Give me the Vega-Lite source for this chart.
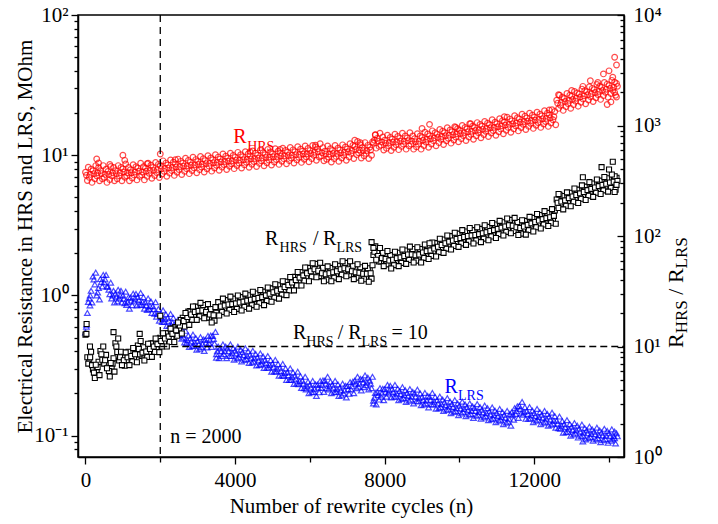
{
"$schema": "https://vega.github.io/schema/vega-lite/v6.json",
"width": 546, "height": 442,
"autosize": {"type": "none"},
"padding": {"left": 78, "top": 15, "right": 94, "bottom": 67},
"background": "white",
"config": {
 "font": "Liberation Serif",
 "view": {"stroke": "black", "strokeWidth": 1.5},
 "axis": {"labelFont": "Liberation Serif", "titleFont": "Liberation Serif", "labelFontSize": 21, "titleFontSize": 21, "labelColor": "black", "titleColor": "black", "titleFontWeight": "normal", "domainColor": "black", "domainWidth": 1.5, "tickColor": "black", "tickWidth": 1.3, "grid": false, "labelOverlap": false, "labelFlush": false}
},
"datasets": {
"main": [
{"n":0,"h":7.56,"l":0.546,"r":12.8},{"n":100,"h":6.95,"l":0.952,"r":7.48},{"n":200,"h":7.77,"l":1.365,"r":6.2},{"n":300,"h":7.14,"l":1.0,"r":6.07},{"n":400,"h":7.77,"l":1.31,"r":9.1},{"n":500,"h":6.95,"l":1.24,"r":7.0},{"n":600,"h":7.67,"l":1.155,"r":6.42},{"n":700,"h":7.14,"l":0.952,"r":6.54},{"n":800,"h":7.77,"l":1.03,"r":10.7},{"n":900,"h":7.14,"l":0.952,"r":7.48},
{"n":1000,"h":7.98,"l":1.0,"r":8.0},{"n":1100,"h":7.14,"l":0.857,"r":7.48},{"n":1200,"h":7.88,"l":0.966,"r":8.77},{"n":1300,"h":7.24,"l":0.905,"r":7.94},{"n":1400,"h":8.09,"l":0.977,"r":10.2},{"n":1500,"h":7.24,"l":0.857,"r":8.22},{"n":1600,"h":8.09,"l":0.893,"r":9.63},{"n":1700,"h":7.43,"l":0.8,"r":8.88},{"n":1800,"h":8.19,"l":0.84,"r":10.7},{"n":1900,"h":7.52,"l":0.705,"r":9.81},
{"n":2000,"h":8.4,"l":0.735,"r":12.0},{"n":2100,"h":7.68,"l":0.648,"r":11.0},{"n":2200,"h":8.53,"l":0.693,"r":13.2},{"n":2300,"h":7.79,"l":0.61,"r":12.1},{"n":2400,"h":8.65,"l":0.63,"r":15.0},{"n":2500,"h":7.9,"l":0.524,"r":14.5},{"n":2600,"h":8.78,"l":0.525,"r":18.2},{"n":2700,"h":8.02,"l":0.457,"r":17.3},{"n":2800,"h":8.9,"l":0.494,"r":20.9},{"n":2900,"h":8.13,"l":0.438,"r":19.2},
{"n":3000,"h":9.03,"l":0.473,"r":22.5},{"n":3100,"h":8.25,"l":0.429,"r":19.8},{"n":3200,"h":9.16,"l":0.483,"r":21.9},{"n":3300,"h":8.36,"l":0.457,"r":18.2},{"n":3400,"h":9.28,"l":0.515,"r":20.5},{"n":3500,"h":8.48,"l":0.381,"r":21.0},{"n":3600,"h":9.41,"l":0.42,"r":24.6},{"n":3700,"h":8.59,"l":0.381,"r":22.0},{"n":3800,"h":9.53,"l":0.42,"r":25.7},{"n":3900,"h":8.7,"l":0.371,"r":22.6},
{"n":4000,"h":9.66,"l":0.404,"r":26.2},{"n":4100,"h":8.81,"l":0.362,"r":23.4},{"n":4200,"h":9.77,"l":0.394,"r":27.3},{"n":4300,"h":8.91,"l":0.352,"r":24.3},{"n":4400,"h":9.88,"l":0.378,"r":28.4},{"n":4500,"h":9.02,"l":0.338,"r":25.2},{"n":4600,"h":10.0,"l":0.362,"r":29.4},{"n":4700,"h":9.12,"l":0.324,"r":26.2},{"n":4800,"h":10.1,"l":0.347,"r":31.0},{"n":4900,"h":9.24,"l":0.305,"r":28.0},
{"n":5000,"h":10.2,"l":0.326,"r":33.2},{"n":5100,"h":9.33,"l":0.286,"r":29.9},{"n":5200,"h":10.35,"l":0.305,"r":35.3},{"n":5300,"h":9.45,"l":0.267,"r":32.2},{"n":5400,"h":10.5,"l":0.284,"r":38.5},{"n":5500,"h":9.55,"l":0.25,"r":35.5},{"n":5600,"h":10.6,"l":0.268,"r":42.8},{"n":5700,"h":9.66,"l":0.233,"r":39.3},{"n":5800,"h":10.7,"l":0.247,"r":47.1},{"n":5900,"h":9.76,"l":0.214,"r":43.0},
{"n":6000,"h":10.8,"l":0.231,"r":51.4},{"n":6100,"h":10.0,"l":0.205,"r":46.7},{"n":6200,"h":11.1,"l":0.231,"r":51.9},{"n":6300,"h":9.9,"l":0.219,"r":43.0},{"n":6400,"h":10.7,"l":0.247,"r":48.2},{"n":6500,"h":9.71,"l":0.214,"r":43.0},{"n":6600,"h":10.8,"l":0.231,"r":50.3},{"n":6700,"h":9.81,"l":0.205,"r":44.9},{"n":6800,"h":10.9,"l":0.22,"r":53.5},{"n":6900,"h":10.0,"l":0.2,"r":47.7},
{"n":7000,"h":11.1,"l":0.226,"r":53.5},{"n":7100,"h":10.3,"l":0.214,"r":44.9},{"n":7200,"h":11.55,"l":0.247,"r":50.3},{"n":7300,"h":10.4,"l":0.224,"r":43.5},{"n":7400,"h":11.3,"l":0.252,"r":48.7},{"n":7500,"h":10.3,"l":0.229,"r":42.5},{"n":7600,"h":11.4,"l":0.247,"r":49.2},{"n":7700,"h":12.2,"l":0.178,"r":67.3},{"n":7800,"h":13.2,"l":0.205,"r":70.6},{"n":7900,"h":11.8,"l":0.19,"r":58.9},
{"n":8000,"h":12.8,"l":0.215,"r":66.3},{"n":8100,"h":11.7,"l":0.2,"r":56.1},{"n":8200,"h":13.0,"l":0.215,"r":65.3},{"n":8300,"h":11.9,"l":0.19,"r":58.9},{"n":8400,"h":13.2,"l":0.208,"r":68.5},{"n":8500,"h":12.0,"l":0.186,"r":61.7},{"n":8600,"h":13.3,"l":0.202,"r":72.8},{"n":8700,"h":12.0,"l":0.181,"r":63.6},{"n":8800,"h":13.1,"l":0.2,"r":71.7},{"n":8900,"h":12.0,"l":0.176,"r":63.6},
{"n":9000,"h":13.4,"l":0.189,"r":76.0},{"n":9100,"h":12.4,"l":0.17,"r":68.2},{"n":9200,"h":13.75,"l":0.189,"r":79.2},{"n":9300,"h":12.7,"l":0.167,"r":72.0},{"n":9400,"h":14.1,"l":0.179,"r":85.6},{"n":9500,"h":13.0,"l":0.16,"r":77.6},{"n":9600,"h":14.5,"l":0.173,"r":92.0},{"n":9700,"h":13.2,"l":0.154,"r":83.2},{"n":9800,"h":14.7,"l":0.168,"r":97.4},{"n":9900,"h":13.5,"l":0.15,"r":87.9},
{"n":10000,"h":15.0,"l":0.164,"r":103},{"n":10100,"h":13.8,"l":0.148,"r":91.6},{"n":10200,"h":15.4,"l":0.16,"r":107},{"n":10300,"h":14.1,"l":0.143,"r":94.4},{"n":10400,"h":15.75,"l":0.158,"r":109},{"n":10500,"h":14.5,"l":0.141,"r":97.2},{"n":10600,"h":16.1,"l":0.153,"r":113},{"n":10700,"h":14.8,"l":0.138,"r":101},{"n":10800,"h":16.5,"l":0.149,"r":119},{"n":10900,"h":15.0,"l":0.133,"r":106},
{"n":11000,"h":16.8,"l":0.145,"r":124},{"n":11100,"h":15.4,"l":0.13,"r":111},{"n":11200,"h":17.2,"l":0.141,"r":131},{"n":11300,"h":15.8,"l":0.126,"r":117},{"n":11400,"h":17.6,"l":0.147,"r":133},{"n":11500,"h":16.2,"l":0.143,"r":112},{"n":11600,"h":18.1,"l":0.163,"r":126},{"n":11700,"h":16.6,"l":0.141,"r":114},{"n":11800,"h":18.4,"l":0.15,"r":135},{"n":11900,"h":16.9,"l":0.133,"r":121},
{"n":12000,"h":18.7,"l":0.145,"r":143},{"n":12100,"h":17.1,"l":0.13,"r":129},{"n":12200,"h":19.1,"l":0.141,"r":152},{"n":12300,"h":17.4,"l":0.126,"r":136},{"n":12400,"h":19.4,"l":0.137,"r":158},{"n":12500,"h":17.9,"l":0.122,"r":142},{"n":12600,"h":24.7,"l":0.128,"r":214},{"n":12700,"h":22.7,"l":0.112,"r":192},{"n":12800,"h":25.4,"l":0.121,"r":225},{"n":12900,"h":23.4,"l":0.107,"r":206},
{"n":13000,"h":26.3,"l":0.116,"r":244},{"n":13100,"h":24.3,"l":0.104,"r":220},{"n":13200,"h":27.3,"l":0.112,"r":260},{"n":13300,"h":25.2,"l":0.1,"r":234},{"n":13400,"h":28.4,"l":0.109,"r":278},{"n":13500,"h":26.2,"l":0.098,"r":250},{"n":13600,"h":29.4,"l":0.107,"r":294},{"n":13700,"h":27.1,"l":0.096,"r":264},{"n":13800,"h":30.5,"l":0.105,"r":310},{"n":13900,"h":28.1,"l":0.095,"r":278},
{"n":14000,"h":31.5,"l":0.104,"r":326},{"n":14100,"h":29.0,"l":0.094,"r":290},{"n":14200,"h":32.5,"l":0.104,"r":337},
{"n":50,"h":6.6,"l":0.75,"r":8},{"n":150,"h":7.96,"l":1.08,"r":8.96},{"n":250,"h":6.79,"l":1.2,"r":5.18},{"n":350,"h":8.18,"l":1.13,"r":7.28},{"n":450,"h":6.79,"l":1.16,"r":7.59},{"n":550,"h":7.96,"l":1.4,"r":8.4},{"n":650,"h":6.7,"l":1.02,"r":5.36},{"n":750,"h":8.18,"l":1.08,"r":7.84},{"n":850,"h":6.79,"l":0.907,"r":8.93},{"n":950,"h":8.18,"l":1.08,"r":8.96},
{"n":1050,"h":6.97,"l":0.88,"r":6.7},{"n":1150,"h":8.18,"l":0.972,"r":8.96},{"n":1250,"h":6.88,"l":0.852,"r":7.32},{"n":1350,"h":8.28,"l":1.026,"r":9.52},{"n":1450,"h":7.06,"l":0.861,"r":8.48},{"n":1550,"h":8.28,"l":0.972,"r":9.86},{"n":1650,"h":7.06,"l":0.787,"r":8.04},{"n":1750,"h":8.5,"l":0.907,"r":10.64},{"n":1850,"h":7.16,"l":0.741,"r":8.93},{"n":1950,"h":8.61,"l":0.8,"r":11.76},
{"n":2050,"h":7.34,"l":0.648,"r":10.0},{"n":2150,"h":8.79,"l":0.734,"r":13.2},{"n":2250,"h":7.45,"l":0.611,"r":11.0},{"n":2350,"h":8.92,"l":0.691,"r":14.56},{"n":2450,"h":7.56,"l":0.556,"r":12.5},{"n":2550,"h":9.05,"l":0.594,"r":17.36},{"n":2650,"h":7.67,"l":0.463,"r":15.18},{"n":2750,"h":9.18,"l":0.518,"r":20.7},{"n":2850,"h":7.78,"l":0.435,"r":17.4},{"n":2950,"h":9.31,"l":0.497,"r":22.96},
{"n":3050,"h":7.89,"l":0.417,"r":18.75},{"n":3150,"h":9.44,"l":0.486,"r":23.74},{"n":3250,"h":8.0,"l":0.426,"r":18.3},{"n":3350,"h":9.57,"l":0.518,"r":21.84},{"n":3450,"h":8.11,"l":0.454,"r":17.14},{"n":3550,"h":9.7,"l":0.432,"r":25.2},{"n":3650,"h":8.22,"l":0.37,"r":20.5},{"n":3750,"h":9.83,"l":0.432,"r":26.3},{"n":3850,"h":8.33,"l":0.37,"r":21.4},{"n":3950,"h":9.96,"l":0.421,"r":27.1},
{"n":4050,"h":8.44,"l":0.356,"r":21.9},{"n":4150,"h":10.08,"l":0.41,"r":28.0},{"n":4250,"h":8.53,"l":0.347,"r":22.8},{"n":4350,"h":10.2,"l":0.4,"r":29.1},{"n":4450,"h":8.63,"l":0.333,"r":23.7},{"n":4550,"h":10.32,"l":0.383,"r":30.2},{"n":4650,"h":8.74,"l":0.319,"r":24.6},{"n":4750,"h":10.44,"l":0.367,"r":31.4},{"n":4850,"h":8.84,"l":0.306,"r":25.9},{"n":4950,"h":10.57,"l":0.346,"r":33.6},
{"n":5050,"h":8.94,"l":0.287,"r":27.7},{"n":5150,"h":10.68,"l":0.324,"r":35.8},{"n":5250,"h":9.05,"l":0.269,"r":29.5},{"n":5350,"h":10.81,"l":0.302,"r":38.6},{"n":5450,"h":9.15,"l":0.25,"r":32.1},{"n":5550,"h":10.93,"l":0.283,"r":42.6},{"n":5650,"h":9.26,"l":0.236,"r":35.7},{"n":5750,"h":11.05,"l":0.265,"r":47.0},{"n":5850,"h":9.36,"l":0.218,"r":39.3},{"n":5950,"h":11.17,"l":0.243,"r":51.5},
{"n":6050,"h":9.45,"l":0.204,"r":42.9},{"n":6150,"h":11.45,"l":0.232,"r":56.0},{"n":6250,"h":9.72,"l":0.204,"r":43.3},{"n":6350,"h":11.34,"l":0.248,"r":51.5},{"n":6450,"h":9.36,"l":0.218,"r":40.2},{"n":6550,"h":11.12,"l":0.243,"r":51.5},{"n":6650,"h":9.45,"l":0.204,"r":42.0},{"n":6750,"h":11.23,"l":0.232,"r":53.8},{"n":6850,"h":9.54,"l":0.194,"r":44.6},{"n":6950,"h":11.45,"l":0.227,"r":57.1},
{"n":7050,"h":9.72,"l":0.199,"r":44.6},{"n":7150,"h":11.77,"l":0.243,"r":53.8},{"n":7250,"h":10.09,"l":0.218,"r":42.0},{"n":7350,"h":11.88,"l":0.254,"r":52.1},{"n":7450,"h":9.91,"l":0.222,"r":40.6},{"n":7550,"h":11.77,"l":0.259,"r":51.0},{"n":7650,"h":10.0,"l":0.218,"r":41.1},{"n":7750,"h":13.95,"l":0.202,"r":80.6},{"n":7850,"h":11.56,"l":0.181,"r":58.9},{"n":7950,"h":13.52,"l":0.216,"r":70.6},
{"n":8050,"h":11.19,"l":0.19,"r":55.4},{"n":8150,"h":13.41,"l":0.227,"r":67.2},{"n":8250,"h":11.38,"l":0.19,"r":54.5},{"n":8350,"h":13.63,"l":0.216,"r":70.6},{"n":8450,"h":11.56,"l":0.183,"r":57.1},{"n":8550,"h":13.73,"l":0.211,"r":73.9},{"n":8650,"h":11.65,"l":0.178,"r":60.7},{"n":8750,"h":13.73,"l":0.205,"r":76.2},{"n":8850,"h":11.47,"l":0.176,"r":59.8},{"n":8950,"h":13.73,"l":0.2,"r":76.2},
{"n":9050,"h":11.74,"l":0.167,"r":63.4},{"n":9150,"h":14.17,"l":0.192,"r":81.8},{"n":9250,"h":12.02,"l":0.167,"r":66.1},{"n":9350,"h":14.5,"l":0.189,"r":86.2},{"n":9450,"h":12.29,"l":0.157,"r":71.4},{"n":9550,"h":14.82,"l":0.181,"r":93.0},{"n":9650,"h":12.66,"l":0.153,"r":76.8},{"n":9750,"h":15.15,"l":0.175,"r":99.7},{"n":9850,"h":12.84,"l":0.148,"r":81.3},{"n":9950,"h":15.48,"l":0.17,"r":105},
{"n":10050,"h":13.12,"l":0.144,"r":85.7},{"n":10150,"h":15.8,"l":0.167,"r":110},{"n":10250,"h":13.49,"l":0.141,"r":89.3},{"n":10350,"h":16.13,"l":0.162,"r":113},{"n":10450,"h":13.76,"l":0.139,"r":91.1},{"n":10550,"h":16.57,"l":0.16,"r":116},{"n":10650,"h":14.04,"l":0.135,"r":94.6},{"n":10750,"h":16.9,"l":0.157,"r":121},{"n":10850,"h":14.4,"l":0.131,"r":99.1},{"n":10950,"h":17.2,"l":0.151,"r":127},
{"n":11050,"h":14.68,"l":0.128,"r":104},{"n":11150,"h":17.66,"l":0.147,"r":133},{"n":11250,"h":15.05,"l":0.124,"r":109},{"n":11350,"h":18.1,"l":0.143,"r":140},{"n":11450,"h":15.41,"l":0.13,"r":111},{"n":11550,"h":18.53,"l":0.162,"r":134},{"n":11650,"h":15.78,"l":0.144,"r":105},{"n":11750,"h":18.97,"l":0.16,"r":137},{"n":11850,"h":16.06,"l":0.132,"r":113},{"n":11950,"h":19.29,"l":0.151,"r":146},
{"n":12050,"h":16.33,"l":0.128,"r":120},{"n":12150,"h":19.62,"l":0.147,"r":155},{"n":12250,"h":16.7,"l":0.124,"r":127},{"n":12350,"h":19.95,"l":0.143,"r":162},{"n":12450,"h":16.97,"l":0.12,"r":132},{"n":12550,"h":20.5,"l":0.138,"r":170},{"n":12650,"h":21.56,"l":0.113,"r":179},{"n":12750,"h":25.94,"l":0.127,"r":230},{"n":12850,"h":22.2,"l":0.106,"r":188},{"n":12950,"h":26.81,"l":0.121,"r":246},
{"n":13050,"h":22.94,"l":0.102,"r":204},{"n":13150,"h":27.8,"l":0.118,"r":263},{"n":13250,"h":23.85,"l":0.099,"r":217},{"n":13350,"h":28.9,"l":0.113,"r":280},{"n":13450,"h":24.77,"l":0.096,"r":232},{"n":13550,"h":30.0,"l":0.111,"r":299},{"n":13650,"h":25.69,"l":0.094,"r":246},{"n":13750,"h":31.07,"l":0.109,"r":317},{"n":13850,"h":26.6,"l":0.093,"r":259},{"n":13950,"h":32.16,"l":0.108,"r":333},
{"n":14050,"h":27.52,"l":0.092,"r":272},{"n":14150,"h":33.25,"l":0.107,"r":347},
{"n":25,"h":7.2,"l":0.6,"r":13},{"n":125,"h":7.3,"l":1.0,"r":8},{"n":225,"h":7.4,"l":1.3,"r":5.8},{"n":325,"h":7.5,"l":1.05,"r":6.5},{"n":425,"h":7.4,"l":1.25,"r":8.5},{"n":525,"h":7.3,"l":1.3,"r":7.5},{"n":625,"h":7.3,"l":1.1,"r":6},{"n":725,"h":7.5,"l":1.0,"r":7},{"n":825,"h":7.4,"l":0.98,"r":10},{"n":925,"h":7.5,"l":1.0,"r":8},
{"n":1025,"h":7.6,"l":0.95,"r":7.5},{"n":1125,"h":7.5,"l":0.9,"r":8},{"n":1225,"h":7.5,"l":0.92,"r":8.2},{"n":1325,"h":7.6,"l":0.95,"r":8.5},{"n":1425,"h":7.7,"l":0.93,"r":9.5},{"n":1525,"h":7.6,"l":0.9,"r":8.8},{"n":1625,"h":7.7,"l":0.85,"r":9},{"n":1725,"h":7.8,"l":0.84,"r":9.5},{"n":1825,"h":7.8,"l":0.8,"r":10},{"n":1925,"h":7.9,"l":0.74,"r":10.5},
{"n":2025,"h":8.0,"l":0.7,"r":11.2},{"n":2125,"h":8.06,"l":0.68,"r":11.8},{"n":2225,"h":8.12,"l":0.66,"r":12.3},{"n":2325,"h":8.18,"l":0.64,"r":13},{"n":2425,"h":8.24,"l":0.6,"r":14},{"n":2525,"h":8.3,"l":0.55,"r":15.5},{"n":2625,"h":8.36,"l":0.5,"r":17},{"n":2725,"h":8.42,"l":0.48,"r":18.5},{"n":2825,"h":8.48,"l":0.47,"r":19.5},{"n":2925,"h":8.54,"l":0.46,"r":20.5},
{"n":3025,"h":8.6,"l":0.45,"r":21},{"n":3125,"h":8.66,"l":0.45,"r":21.2},{"n":3225,"h":8.72,"l":0.46,"r":20.5},{"n":3325,"h":8.78,"l":0.48,"r":19.5},{"n":3425,"h":8.84,"l":0.49,"r":19.2},{"n":3525,"h":8.9,"l":0.4,"r":22.5},{"n":3625,"h":8.96,"l":0.4,"r":23},{"n":3725,"h":9.02,"l":0.4,"r":23.5},{"n":3825,"h":9.08,"l":0.4,"r":24},{"n":3925,"h":9.14,"l":0.39,"r":24.2},
{"n":4025,"h":9.2,"l":0.385,"r":24.5},{"n":4125,"h":9.25,"l":0.38,"r":25},{"n":4225,"h":9.3,"l":0.375,"r":25.5},{"n":4325,"h":9.36,"l":0.37,"r":26},{"n":4425,"h":9.41,"l":0.36,"r":26.5},{"n":4525,"h":9.47,"l":0.355,"r":27},{"n":4625,"h":9.53,"l":0.345,"r":27.5},{"n":4725,"h":9.58,"l":0.34,"r":28},{"n":4825,"h":9.64,"l":0.33,"r":29},{"n":4925,"h":9.7,"l":0.32,"r":30},
{"n":5025,"h":9.75,"l":0.31,"r":31},{"n":5125,"h":9.8,"l":0.3,"r":32},{"n":5225,"h":9.86,"l":0.29,"r":33},{"n":5325,"h":9.92,"l":0.28,"r":34.5},{"n":5425,"h":9.97,"l":0.27,"r":36},{"n":5525,"h":10.03,"l":0.262,"r":38},{"n":5625,"h":10.09,"l":0.255,"r":40},{"n":5725,"h":10.14,"l":0.245,"r":42},{"n":5825,"h":10.2,"l":0.235,"r":44},{"n":5925,"h":10.25,"l":0.225,"r":46},
{"n":6025,"h":10.3,"l":0.22,"r":48},{"n":6125,"h":10.5,"l":0.215,"r":50},{"n":6225,"h":10.6,"l":0.22,"r":48.5},{"n":6325,"h":10.4,"l":0.23,"r":46},{"n":6425,"h":10.2,"l":0.235,"r":45},{"n":6525,"h":10.2,"l":0.225,"r":46},{"n":6625,"h":10.3,"l":0.22,"r":47},{"n":6725,"h":10.3,"l":0.215,"r":48},{"n":6825,"h":10.4,"l":0.21,"r":50},{"n":6925,"h":10.5,"l":0.21,"r":51},
{"n":7025,"h":10.6,"l":0.215,"r":50},{"n":7125,"h":10.8,"l":0.225,"r":48},{"n":7225,"h":11.0,"l":0.235,"r":47},{"n":7325,"h":10.9,"l":0.235,"r":46.5},{"n":7425,"h":10.8,"l":0.24,"r":45.5},{"n":7525,"h":10.8,"l":0.24,"r":45.5},{"n":7625,"h":10.9,"l":0.235,"r":46},{"n":7725,"h":12.8,"l":0.187,"r":72},{"n":7825,"h":12.6,"l":0.195,"r":66},{"n":7925,"h":12.4,"l":0.2,"r":63},
{"n":8025,"h":12.2,"l":0.205,"r":62},{"n":8125,"h":12.3,"l":0.21,"r":60},{"n":8225,"h":12.4,"l":0.205,"r":61},{"n":8325,"h":12.5,"l":0.2,"r":63},{"n":8425,"h":12.6,"l":0.198,"r":64},{"n":8525,"h":12.6,"l":0.195,"r":66},{"n":8625,"h":12.7,"l":0.192,"r":68},{"n":8725,"h":12.6,"l":0.19,"r":68},{"n":8825,"h":12.5,"l":0.19,"r":67},{"n":8925,"h":12.6,"l":0.185,"r":68},
{"n":9025,"h":12.8,"l":0.18,"r":71},{"n":9125,"h":13.0,"l":0.178,"r":73},{"n":9225,"h":13.1,"l":0.18,"r":74},{"n":9325,"h":13.3,"l":0.175,"r":77},{"n":9425,"h":13.4,"l":0.17,"r":80},{"n":9525,"h":13.6,"l":0.168,"r":83},{"n":9625,"h":13.8,"l":0.165,"r":86},{"n":9725,"h":13.9,"l":0.162,"r":89},{"n":9825,"h":14.0,"l":0.16,"r":91},{"n":9925,"h":14.2,"l":0.157,"r":94},
{"n":10025,"h":14.3,"l":0.156,"r":96},{"n":10125,"h":14.5,"l":0.155,"r":98},{"n":10225,"h":14.7,"l":0.152,"r":100},{"n":10325,"h":14.8,"l":0.15,"r":101},{"n":10425,"h":15.0,"l":0.15,"r":102},{"n":10525,"h":15.2,"l":0.148,"r":104},{"n":10625,"h":15.3,"l":0.146,"r":106},{"n":10725,"h":15.5,"l":0.145,"r":108},{"n":10825,"h":15.7,"l":0.142,"r":111},{"n":10925,"h":15.8,"l":0.14,"r":113},
{"n":11025,"h":16.0,"l":0.138,"r":116},{"n":11125,"h":16.2,"l":0.136,"r":119},{"n":11225,"h":16.4,"l":0.134,"r":122},{"n":11325,"h":16.6,"l":0.132,"r":125},{"n":11425,"h":16.8,"l":0.14,"r":124},{"n":11525,"h":17.0,"l":0.15,"r":120},{"n":11625,"h":17.2,"l":0.155,"r":118},{"n":11725,"h":17.4,"l":0.148,"r":122},{"n":11825,"h":17.5,"l":0.143,"r":126},{"n":11925,"h":17.7,"l":0.14,"r":130},
{"n":12025,"h":17.8,"l":0.138,"r":134},{"n":12125,"h":18.0,"l":0.136,"r":138},{"n":12225,"h":18.2,"l":0.134,"r":142},{"n":12325,"h":18.3,"l":0.132,"r":145},{"n":12425,"h":18.5,"l":0.13,"r":148},{"n":12525,"h":18.8,"l":0.128,"r":152},{"n":12625,"h":23.5,"l":0.122,"r":200},{"n":12725,"h":23.8,"l":0.118,"r":205},{"n":12825,"h":24.2,"l":0.115,"r":210},{"n":12925,"h":24.6,"l":0.112,"r":220},
{"n":13025,"h":25.0,"l":0.11,"r":228},{"n":13125,"h":25.5,"l":0.109,"r":235},{"n":13225,"h":26.0,"l":0.107,"r":243},{"n":13325,"h":26.5,"l":0.105,"r":250},{"n":13425,"h":27.0,"l":0.104,"r":260},{"n":13525,"h":27.5,"l":0.103,"r":267},{"n":13625,"h":28.0,"l":0.102,"r":275},{"n":13725,"h":28.5,"l":0.101,"r":283},{"n":13825,"h":29.0,"l":0.1,"r":290},{"n":13925,"h":29.5,"l":0.1,"r":297},
{"n":14025,"h":30.0,"l":0.099,"r":305},{"n":14125,"h":30.5,"l":0.099,"r":310},{"n":14225,"h":31,"l":0.099,"r":315},
{"n":75,"h":8.21,"l":0.9,"r":7},{"n":175,"h":6.4,"l":0.893,"r":6.78},{"n":275,"h":8.44,"l":1.456,"r":6.84},{"n":375,"h":6.58,"l":0.9375,"r":5.51},{"n":475,"h":8.44,"l":1.4,"r":10.0},{"n":575,"h":6.4,"l":1.16,"r":6.36},{"n":675,"h":8.32,"l":1.232,"r":7.08},{"n":775,"h":6.58,"l":0.893,"r":5.93},{"n":875,"h":8.44,"l":1.098,"r":11.8},{"n":975,"h":6.58,"l":0.893,"r":6.78},
{"n":1075,"h":8.66,"l":1.064,"r":8.85},{"n":1175,"h":6.58,"l":0.804,"r":6.78},{"n":1275,"h":8.55,"l":1.03,"r":9.68},{"n":1375,"h":6.67,"l":0.848,"r":7.2},{"n":1475,"h":8.78,"l":1.042,"r":11.2},{"n":1575,"h":6.67,"l":0.804,"r":7.46},{"n":1675,"h":8.78,"l":0.952,"r":10.6},{"n":1775,"h":6.84,"l":0.75,"r":8.05},{"n":1875,"h":8.89,"l":0.896,"r":11.8},{"n":1975,"h":6.93,"l":0.661,"r":8.9},
{"n":2075,"h":9.12,"l":0.784,"r":13.2},{"n":2175,"h":7.07,"l":0.607,"r":10.0},{"n":2275,"h":9.26,"l":0.739,"r":14.5},{"n":2375,"h":7.18,"l":0.571,"r":11.0},{"n":2475,"h":9.39,"l":0.672,"r":16.5},{"n":2575,"h":7.28,"l":0.491,"r":13.1},{"n":2675,"h":9.53,"l":0.56,"r":20.1},{"n":2775,"h":7.39,"l":0.429,"r":15.7},{"n":2875,"h":9.67,"l":0.526,"r":23.0},{"n":2975,"h":7.49,"l":0.411,"r":17.4},
{"n":3075,"h":9.8,"l":0.504,"r":24.8},{"n":3175,"h":7.6,"l":0.402,"r":18.0},{"n":3275,"h":9.94,"l":0.515,"r":24.2},{"n":3375,"h":7.7,"l":0.429,"r":16.5},{"n":3475,"h":10.08,"l":0.549,"r":22.7},{"n":3575,"h":7.81,"l":0.357,"r":19.1},{"n":3675,"h":10.21,"l":0.448,"r":27.1},{"n":3775,"h":7.91,"l":0.357,"r":19.9},{"n":3875,"h":10.35,"l":0.448,"r":28.3},{"n":3975,"h":8.02,"l":0.348,"r":20.5},
{"n":4075,"h":10.49,"l":0.431,"r":28.9},{"n":4175,"h":8.11,"l":0.339,"r":21.2},{"n":4275,"h":10.6,"l":0.42,"r":30.1},{"n":4375,"h":8.21,"l":0.33,"r":22.0},{"n":4475,"h":10.73,"l":0.403,"r":31.3},{"n":4575,"h":8.31,"l":0.317,"r":22.9},{"n":4675,"h":10.86,"l":0.386,"r":32.5},{"n":4775,"h":8.4,"l":0.304,"r":23.7},{"n":4875,"h":10.99,"l":0.37,"r":34.2},{"n":4975,"h":8.51,"l":0.286,"r":25.4},
{"n":5075,"h":11.12,"l":0.347,"r":36.6},{"n":5175,"h":8.6,"l":0.268,"r":27.1},{"n":5275,"h":11.24,"l":0.325,"r":38.9},{"n":5375,"h":8.7,"l":0.25,"r":29.2},{"n":5475,"h":11.37,"l":0.302,"r":42.5},{"n":5575,"h":8.8,"l":0.234,"r":32.2},{"n":5675,"h":11.5,"l":0.286,"r":47.2},{"n":5775,"h":8.89,"l":0.219,"r":35.6},{"n":5875,"h":11.63,"l":0.263,"r":51.9},{"n":5975,"h":8.99,"l":0.201,"r":39.0},
{"n":6075,"h":11.74,"l":0.246,"r":56.6},{"n":6175,"h":9.21,"l":0.192,"r":42.4},{"n":6275,"h":12.08,"l":0.246,"r":57.2},{"n":6375,"h":9.12,"l":0.205,"r":39.0},{"n":6475,"h":11.63,"l":0.263,"r":53.1},{"n":6575,"h":8.95,"l":0.201,"r":39.0},{"n":6675,"h":11.74,"l":0.246,"r":55.5},{"n":6775,"h":9.04,"l":0.192,"r":40.7},{"n":6875,"h":11.86,"l":0.235,"r":59.0},{"n":6975,"h":9.21,"l":0.1875,"r":43.2},
{"n":7075,"h":12.08,"l":0.241,"r":59.0},{"n":7175,"h":9.47,"l":0.201,"r":40.7},{"n":7275,"h":12.54,"l":0.263,"r":55.5},{"n":7375,"h":9.56,"l":0.21,"r":39.4},{"n":7475,"h":12.31,"l":0.269,"r":53.7},{"n":7575,"h":9.47,"l":0.214,"r":38.6},{"n":7675,"h":12.43,"l":0.263,"r":54.3},{"n":7775,"h":11.23,"l":0.167,"r":61.0},{"n":7875,"h":14.36,"l":0.218,"r":77.9},{"n":7975,"h":10.88,"l":0.179,"r":53.4},
{"n":8075,"h":13.91,"l":0.23,"r":73.2},{"n":8175,"h":10.79,"l":0.1875,"r":50.8},{"n":8275,"h":14.14,"l":0.23,"r":72.0},{"n":8375,"h":10.96,"l":0.179,"r":53.4},{"n":8475,"h":14.36,"l":0.222,"r":75.5},{"n":8575,"h":11.05,"l":0.174,"r":55.9},{"n":8675,"h":14.48,"l":0.215,"r":80.2},{"n":8775,"h":11.05,"l":0.17,"r":57.6},{"n":8875,"h":14.25,"l":0.213,"r":79.1},{"n":8975,"h":11.05,"l":0.165,"r":57.6},
{"n":9075,"h":14.59,"l":0.202,"r":83.8},{"n":9175,"h":11.4,"l":0.159,"r":61.9},{"n":9275,"h":14.93,"l":0.202,"r":87.3},{"n":9375,"h":11.67,"l":0.156,"r":65.3},{"n":9475,"h":15.28,"l":0.19,"r":94.4},{"n":9575,"h":11.93,"l":0.15,"r":70.3},{"n":9675,"h":15.73,"l":0.185,"r":101},{"n":9775,"h":12.19,"l":0.145,"r":75.4},{"n":9875,"h":15.96,"l":0.179,"r":107},{"n":9975,"h":12.46,"l":0.14,"r":79.7},
{"n":10075,"h":16.3,"l":0.175,"r":113},{"n":10175,"h":12.72,"l":0.138,"r":83.1},{"n":10275,"h":16.76,"l":0.17,"r":118},{"n":10375,"h":12.98,"l":0.134,"r":85.6},{"n":10475,"h":17.1,"l":0.168,"r":120},{"n":10575,"h":13.33,"l":0.132,"r":88.1},{"n":10675,"h":17.44,"l":0.164,"r":125},{"n":10775,"h":13.6,"l":0.129,"r":91.5},{"n":10875,"h":17.9,"l":0.159,"r":131},{"n":10975,"h":13.86,"l":0.125,"r":95.8},
{"n":11075,"h":18.24,"l":0.155,"r":137},{"n":11175,"h":14.21,"l":0.121,"r":101},{"n":11275,"h":18.7,"l":0.15,"r":144},{"n":11375,"h":14.56,"l":0.118,"r":106},{"n":11475,"h":19.15,"l":0.157,"r":146},{"n":11575,"h":14.91,"l":0.134,"r":102},{"n":11675,"h":19.61,"l":0.174,"r":139},{"n":11775,"h":15.26,"l":0.132,"r":103},{"n":11875,"h":19.95,"l":0.16,"r":149},{"n":11975,"h":15.53,"l":0.125,"r":110},
{"n":12075,"h":20.29,"l":0.155,"r":158},{"n":12175,"h":15.79,"l":0.121,"r":117},{"n":12275,"h":20.75,"l":0.15,"r":168},{"n":12375,"h":16.05,"l":0.118,"r":123},{"n":12475,"h":21.09,"l":0.146,"r":175},{"n":12575,"h":16.49,"l":0.114,"r":129},{"n":12675,"h":26.79,"l":0.137,"r":236},{"n":12775,"h":20.88,"l":0.105,"r":174},{"n":12875,"h":27.59,"l":0.129,"r":248},{"n":12975,"h":21.58,"l":0.1,"r":186},
{"n":13075,"h":28.5,"l":0.123,"r":269},{"n":13175,"h":22.37,"l":0.097,"r":199},{"n":13275,"h":29.64,"l":0.12,"r":287},{"n":13375,"h":23.25,"l":0.094,"r":212},{"n":13475,"h":30.78,"l":0.116,"r":307},{"n":13575,"h":24.12,"l":0.092,"r":226},{"n":13675,"h":31.92,"l":0.114,"r":325},{"n":13775,"h":25.0,"l":0.09,"r":240},{"n":13875,"h":33.06,"l":0.112,"r":342},{"n":13975,"h":25.88,"l":0.089,"r":252},
{"n":14075,"h":34.2,"l":0.111,"r":360},{"n":14175,"h":26.75,"l":0.088,"r":263},
{"n":300,"h":9.4},{"n":350,"h":8.8},{"n":650,"h":8.6},{"n":1000,"h":10.0},{"n":1050,"h":9.2},{"n":1650,"h":8.7},{"n":2000,"h":10.2},{"n":2400,"h":9.3},{"n":4400,"h":10.6},{"n":5200,"h":11.0},{"n":6150,"h":11.8},{"n":7200,"h":12.8},{"n":7350,"h":12.3},{"n":7750,"h":14.0},{"n":9000,"h":15.5},{"n":9200,"h":16.6},{"n":9900,"h":15.8},{"n":10300,"h":16.8},{"n":11200,"h":18.8},{"n":12400,"h":21.0},{"n":12650,"h":27},{"n":13000,"h":29},{"n":13300,"h":31},{"n":13500,"h":34},{"n":13700,"h":33},{"n":13850,"h":38},{"n":14000,"h":40},{"n":14100,"h":36},{"n":14150,"h":50},{"n":14200,"h":44},{"n":14050,"h":24},{"n":13950,"h":23},{"n":14200,"h":26},{"n":14150,"h":28},
{"n":30,"l":0.62},{"n":120,"l":0.85},{"n":7700,"l":0.17},{"n":13300,"l":0.091},{"n":14150,"l":0.096},{"n":3500,"l":0.36},
{"n":30,"r":16},{"n":120,"r":10},{"n":750,"r":13.5},{"n":1450,"r":13},{"n":2000,"r":19},{"n":7650,"r":88},{"n":7700,"r":78},{"n":9200,"r":86},{"n":12650,"r":240},{"n":13300,"r":340},{"n":13800,"r":420},{"n":14000,"r":400},{"n":14100,"r":470},{"n":14150,"r":250},{"n":14200,"r":290}
],
"vline": [{"n": 2000}],
"hline": [{"n": 2000, "n2": 14400, "r": 10}],
"labMain": [
{"n":3949,"v":12.18,"t":"R","s":"HRS"},
{"n":4803,"v":2.276,"t":"R","s":"ratio"},{"n":6083,"v":2.276,"t":"/","s":"ratio"},{"n":6349,"v":2.276,"t":"R","s":"ratio"},
{"n":5549,"v":0.493,"t":"R","s":"ratio"},{"n":6744,"v":0.493,"t":"/","s":"ratio"},{"n":7027,"v":0.493,"t":"R","s":"ratio"},{"n":8181,"v":0.493,"t":"= 10","s":"ratio"},
{"n":9603,"v":0.2028,"t":"R","s":"LRS"},
{"n":2269,"v":0.0891,"t":"n = 2000","s":"ratio"}
],
"labSub": [
{"n":4323,"v":10.68,"t":"HRS","s":"HRS"},
{"n":5189,"v":2.028,"t":"HRS","s":"ratio"},{"n":6709,"v":2.028,"t":"LRS","s":"ratio"},
{"n":5904,"v":0.4394,"t":"HRS","s":"ratio"},{"n":7381,"v":0.4394,"t":"LRS","s":"ratio"},
{"n":9963,"v":0.1808,"t":"LRS","s":"LRS"}
],
"rtMain": [{"n":15976,"v":9.69,"t":"R"},{"n":15976,"v":29.4,"t":"/"},{"n":15976,"v":37.5,"t":"R"}],
"rtSub": [{"n":16083,"v":13.17,"t":"HRS"},{"n":16083,"v":50.9,"t":"LRS"}]
},
"encoding": {
 "x": {"field": "n", "type": "quantitative", "scale": {"domain": [-200, 14400], "nice": false, "zero": false},
  "axis": {"title": "Number of rewrite cycles (n)", "values": [0,2000,4000,6000,8000,10000,12000,14000], "format": "d", "labelExpr": "datum.value % 4000 === 0 ? datum.label : ''", "tickSize": {"condition": {"test": "datum.value % 4000 === 0", "value": 7}, "value": 5}, "labelPadding": 5, "titlePadding": 5}}
},
"layer": [
 {
  "layer": [
   {"data": {"name": "main"}, "mark": {"type": "point", "shape": "triangle-up", "filled": false, "color": "#0000ff", "size": 32, "strokeWidth": 1.2},
    "encoding": {"y": {"field": "l", "type": "quantitative", "scale": {"type": "log", "domain": [0.0705, 100], "nice": false},
     "axis": {"orient": "left", "title": "Electrical Resistance in HRS and LRS, MOhm", "values": [0.08,0.09,0.1,0.2,0.3,0.4,0.5,0.6,0.7,0.8,0.9,1,2,3,4,5,6,7,8,9,10,20,30,40,50,60,70,80,90,100], "labelExpr": "datum.value==0.1?'10⁻¹':datum.value==1?'10⁰':datum.value==10?'10¹':datum.value==100?'10²':''", "tickSize": {"condition": {"test": "datum.value==0.1||datum.value==1||datum.value==10||datum.value==100", "value": 7}, "value": 4}, "labelPadding": 3, "titlePadding": -2}}}},
   {"data": {"name": "main"}, "mark": {"type": "point", "shape": "circle", "filled": false, "color": "#ff0000", "size": 32, "strokeWidth": 1.2},
    "encoding": {"y": {"field": "h", "type": "quantitative", "scale": {"type": "log", "domain": [0.0705, 100], "nice": false},
     "axis": {"orient": "left", "title": "Electrical Resistance in HRS and LRS, MOhm", "values": [0.08,0.09,0.1,0.2,0.3,0.4,0.5,0.6,0.7,0.8,0.9,1,2,3,4,5,6,7,8,9,10,20,30,40,50,60,70,80,90,100], "labelExpr": "datum.value==0.1?'10⁻¹':datum.value==1?'10⁰':datum.value==10?'10¹':datum.value==100?'10²':''", "tickSize": {"condition": {"test": "datum.value==0.1||datum.value==1||datum.value==10||datum.value==100", "value": 7}, "value": 4}, "labelPadding": 3, "titlePadding": -2}}}},
   {"data": {"name": "vline"}, "mark": {"type": "rule", "color": "black", "strokeWidth": 1.3, "strokeDash": [7, 5]}, "encoding": {}},
   {"data": {"name": "labMain"}, "mark": {"type": "text", "fontSize": 20, "align": "left", "baseline": "alphabetic", "font": "Liberation Serif"},
    "encoding": {"text": {"field": "t"}, "color": {"field": "s", "type": "nominal", "scale": {"domain": ["HRS", "LRS", "ratio"], "range": ["#ff0000", "#0000ff", "#000000"]}, "legend": null},
     "y": {"field": "v", "type": "quantitative", "scale": {"type": "log", "domain": [0.0705, 100], "nice": false},
     "axis": {"orient": "left", "title": "Electrical Resistance in HRS and LRS, MOhm", "values": [0.08,0.09,0.1,0.2,0.3,0.4,0.5,0.6,0.7,0.8,0.9,1,2,3,4,5,6,7,8,9,10,20,30,40,50,60,70,80,90,100], "labelExpr": "datum.value==0.1?'10⁻¹':datum.value==1?'10⁰':datum.value==10?'10¹':datum.value==100?'10²':''", "tickSize": {"condition": {"test": "datum.value==0.1||datum.value==1||datum.value==10||datum.value==100", "value": 7}, "value": 4}, "labelPadding": 3, "titlePadding": -2}}}},
   {"data": {"name": "labSub"}, "mark": {"type": "text", "fontSize": 14, "align": "left", "baseline": "alphabetic", "font": "Liberation Serif"},
    "encoding": {"text": {"field": "t"}, "color": {"field": "s", "type": "nominal", "scale": {"domain": ["HRS", "LRS", "ratio"], "range": ["#ff0000", "#0000ff", "#000000"]}, "legend": null},
     "y": {"field": "v", "type": "quantitative", "scale": {"type": "log", "domain": [0.0705, 100], "nice": false},
     "axis": {"orient": "left", "title": "Electrical Resistance in HRS and LRS, MOhm", "values": [0.08,0.09,0.1,0.2,0.3,0.4,0.5,0.6,0.7,0.8,0.9,1,2,3,4,5,6,7,8,9,10,20,30,40,50,60,70,80,90,100], "labelExpr": "datum.value==0.1?'10⁻¹':datum.value==1?'10⁰':datum.value==10?'10¹':datum.value==100?'10²':''", "tickSize": {"condition": {"test": "datum.value==0.1||datum.value==1||datum.value==10||datum.value==100", "value": 7}, "value": 4}, "labelPadding": 3, "titlePadding": -2}}}}
  ]
 },
 {
  "layer": [
   {"data": {"name": "main"}, "mark": {"type": "point", "shape": "square", "fill": "white", "stroke": "black", "fillOpacity": 1, "size": 25, "strokeWidth": 1.1},
    "encoding": {"y": {"field": "r", "type": "quantitative", "scale": {"type": "log", "domain": [1, 10000], "nice": false},
     "axis": {"orient": "right", "title": null, "values": [1,2,3,4,5,6,7,8,9,10,20,30,40,50,60,70,80,90,100,200,300,400,500,600,700,800,900,1000,2000,3000,4000,5000,6000,7000,8000,9000,10000], "labelExpr": "datum.value==1?'10⁰':datum.value==10?'10¹':datum.value==100?'10²':datum.value==1000?'10³':datum.value==10000?'10⁴':''", "tickSize": {"condition": {"test": "datum.value==1||datum.value==10||datum.value==100||datum.value==1000||datum.value==10000", "value": -7}, "value": -4}, "labelPadding": 16}}}},
   {"data": {"name": "hline"}, "mark": {"type": "rule", "color": "black", "strokeWidth": 1.3, "strokeDash": [7, 4]},
    "encoding": {"x2": {"field": "n2"}, "y": {"field": "r", "type": "quantitative", "scale": {"type": "log", "domain": [1, 10000], "nice": false},
     "axis": {"orient": "right", "title": null, "values": [1,2,3,4,5,6,7,8,9,10,20,30,40,50,60,70,80,90,100,200,300,400,500,600,700,800,900,1000,2000,3000,4000,5000,6000,7000,8000,9000,10000], "labelExpr": "datum.value==1?'10⁰':datum.value==10?'10¹':datum.value==100?'10²':datum.value==1000?'10³':datum.value==10000?'10⁴':''", "tickSize": {"condition": {"test": "datum.value==1||datum.value==10||datum.value==100||datum.value==1000||datum.value==10000", "value": -7}, "value": -4}, "labelPadding": 16}}}},
   {"data": {"name": "rtMain"}, "mark": {"type": "text", "fontSize": 22, "align": "left", "baseline": "alphabetic", "angle": 270, "color": "black", "font": "Liberation Serif"},
    "encoding": {"text": {"field": "t"}, "y": {"field": "v", "type": "quantitative", "scale": {"type": "log", "domain": [1, 10000], "nice": false},
     "axis": {"orient": "right", "title": null, "values": [1,2,3,4,5,6,7,8,9,10,20,30,40,50,60,70,80,90,100,200,300,400,500,600,700,800,900,1000,2000,3000,4000,5000,6000,7000,8000,9000,10000], "labelExpr": "datum.value==1?'10⁰':datum.value==10?'10¹':datum.value==100?'10²':datum.value==1000?'10³':datum.value==10000?'10⁴':''", "tickSize": {"condition": {"test": "datum.value==1||datum.value==10||datum.value==100||datum.value==1000||datum.value==10000", "value": -7}, "value": -4}, "labelPadding": 16}}}},
   {"data": {"name": "rtSub"}, "mark": {"type": "text", "fontSize": 17, "align": "left", "baseline": "alphabetic", "angle": 270, "color": "black", "font": "Liberation Serif"},
    "encoding": {"text": {"field": "t"}, "y": {"field": "v", "type": "quantitative", "scale": {"type": "log", "domain": [1, 10000], "nice": false},
     "axis": {"orient": "right", "title": null, "values": [1,2,3,4,5,6,7,8,9,10,20,30,40,50,60,70,80,90,100,200,300,400,500,600,700,800,900,1000,2000,3000,4000,5000,6000,7000,8000,9000,10000], "labelExpr": "datum.value==1?'10⁰':datum.value==10?'10¹':datum.value==100?'10²':datum.value==1000?'10³':datum.value==10000?'10⁴':''", "tickSize": {"condition": {"test": "datum.value==1||datum.value==10||datum.value==100||datum.value==1000||datum.value==10000", "value": -7}, "value": -4}, "labelPadding": 16}}}}
  ]
 }
],
"resolve": {"scale": {"y": "independent"}}
}
